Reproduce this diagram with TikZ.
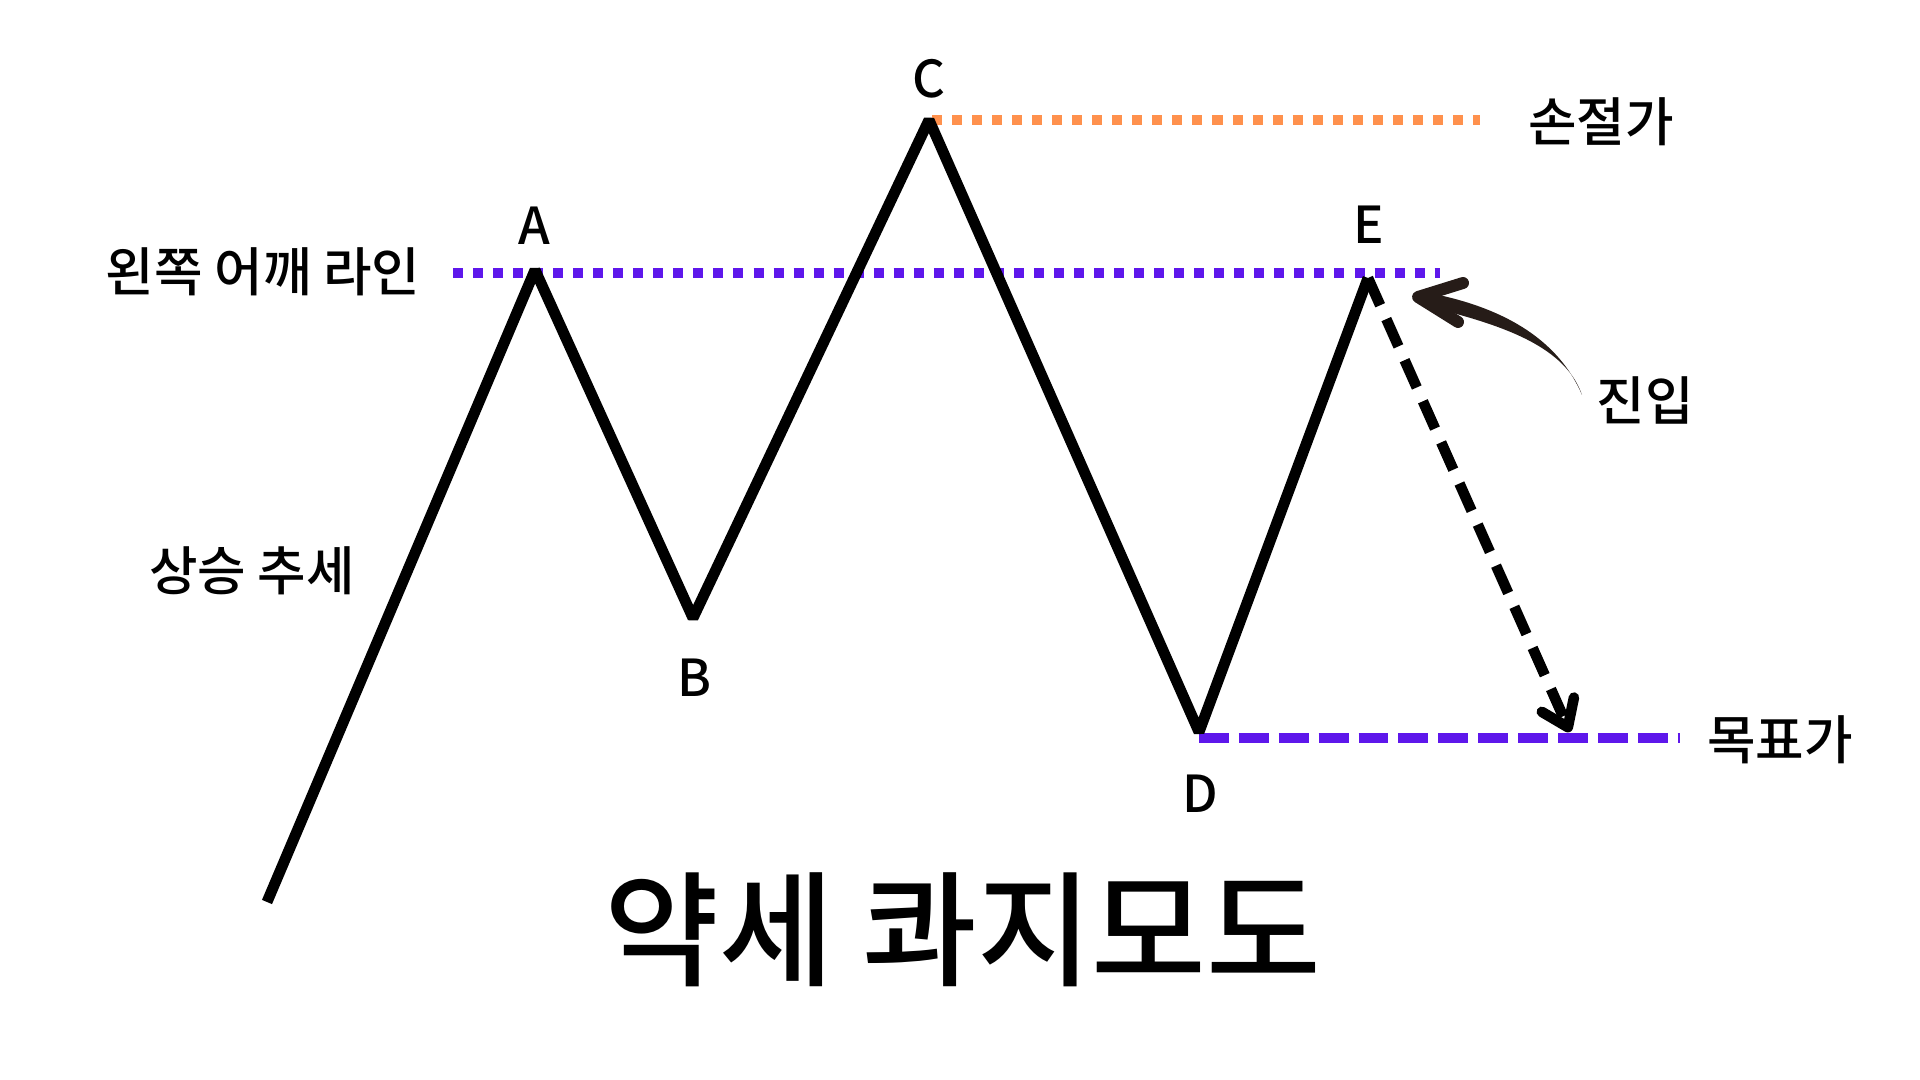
\documentclass[tikz,border=0pt]{standalone}
\usepackage{fontspec}
\setmainfont{Noto Sans CJK KR}[UprightFont=* Medium]
\usetikzlibrary{arrows.meta,calc}
\definecolor{qmpurple}{RGB}{94,23,235}
\definecolor{qmorange}{RGB}{255,145,77}
\definecolor{qmbrown}{RGB}{38,28,24}

\begin{document}
\begin{tikzpicture}[
  trend/.style={line width=3.1pt, line join=bevel},
  lbl/.style={font=\fontsize{15pt}{18pt}\selectfont, inner sep=0pt},
  ptlbl/.style={font=\fontsize{14.5pt}{17pt}\selectfont, inner sep=0pt},
  shoulderline/.style={qmpurple, line width=2.85pt, dash pattern=on 2.85pt off 2.85pt},
  stopline/.style={qmorange, line width=2.85pt, dash pattern=on 2.85pt off 2.85pt},
  targetline/.style={qmpurple, line width=2.85pt, dash pattern=on 8.5pt off 2.85pt},
  moveline/.style={line width=3pt, dash pattern=on 8.5pt off 4.3pt, -{Straight Barb[length=7pt, width=10pt, round]}},
  entrybody/.style={qmbrown},
  entryhead/.style={qmbrown, line width=3.4pt, line cap=round, line join=round}
]
\useasboundingbox[fill=white] (0,0) rectangle (19.2,10.8);
% wave points
\coordinate (start) at (2.67,1.78);
\coordinate (A) at (5.35,8.10);
\coordinate (B) at (6.93,4.62);
\coordinate (C) at (9.29,9.60);
\coordinate (D) at (11.99,3.48);
\coordinate (E) at (13.68,8.02);
\coordinate (goal) at (15.70,3.48);
% level ends
\coordinate (shoulderL) at (4.53,8.07);
\coordinate (shoulderR) at (14.40,8.07);
\coordinate (stopL) at (9.32,9.60);
\coordinate (stopR) at (14.80,9.60);
\coordinate (targetR) at (16.80,3.42);
\coordinate (entrytail) at (15.82,6.85);
\coordinate (entrytip) at (14.18,7.83);

\draw[shoulderline] (shoulderL) -- (shoulderR);
\draw[stopline] (stopL) -- (stopR);
\draw[targetline] (D |- targetR) -- (targetR);
\draw[trend] (start) -- (A) -- (B) -- (C) -- (D) -- (E);
\draw[moveline] (E) -- (goal);
% hand drawn entry arrow
\fill[entrybody] (entrytail) .. controls (15.55,7.48) and (14.90,7.77) .. ($(entrytip)+(0,0.06)$)
  -- ($(entrytip)+(0,-0.07)$) .. controls (14.95,7.57) and (15.64,7.37) .. (entrytail) -- cycle;
\draw[entryhead] (14.63,7.97) -- (entrytip) -- (14.58,7.58);

\node[ptlbl] (lA) at (5.34,8.54) {A};
\node[ptlbl] (lB) at (6.94,4.02) {B};
\node[ptlbl] (lC) at (9.29,10.01) {C};
\node[ptlbl] (lD) at (12.00,2.86) {D};
\node[ptlbl] (lE) at (13.69,8.55) {E};
\node[lbl] (shoulder) at (2.63,8.08) {왼쪽 어깨 라인};
\node[lbl] (trendtext) at (2.52,5.09) {상승 추세};
\node[lbl] (stop) at (16.01,9.58) {손절가};
\node[lbl] (entry) at (16.45,6.80) {진입};
\node[lbl] (target) at (17.80,3.40) {목표가};
\node[font=\fontsize{35.5pt}{42pt}\selectfont, inner sep=0pt] (title) at (9.63,1.50) {약세 콰지모도};
\end{tikzpicture}
\end{document}
